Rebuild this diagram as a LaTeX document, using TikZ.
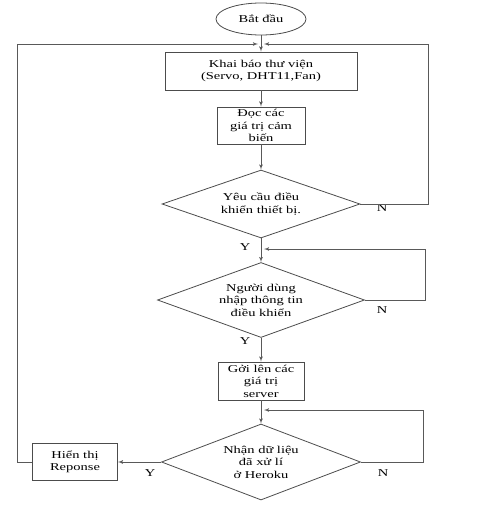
\documentclass[tikz,border=0pt]{standalone}
\usepackage{fontspec}
\setmainfont{Liberation Serif}[FakeStretch=1.38]
\usepackage{tikz}
\usetikzlibrary{shapes,arrows,positioning}

\begin{document}
\begin{tikzpicture}[x=1pt, y=-1pt, auto, font=\fontsize{10.5}{12.5}\selectfont]
    \tikzstyle{block} = [rectangle, draw=black!70, line width=0.8pt,
        align=center, inner sep=2pt]
    \tikzstyle{decision} = [diamond, draw=black!70, line width=0.8pt,
        align=center, inner sep=0pt, aspect=2.8]
    \tikzstyle{terminal} = [ellipse, draw=black!70, line width=0.8pt,
        minimum width=90pt, minimum height=32pt]
    \tikzstyle{line} = [draw=black!65, line width=0.8pt, -latex']
    \tikzstyle{answer} = [inner sep=0pt]

    \useasboundingbox (0,0) rectangle (480,506);

    \node [terminal] (start) at (261,19) {Bắt đầu};
    \node [block, below of=start, node distance=52pt, minimum width=192pt, minimum height=38pt] (libs) {Khai báo thư viện\\(Servo, DHT11,Fan)};
    \node [block, below of=libs, node distance=54.5pt, minimum width=88pt, minimum height=37pt] (read) {Đọc các\\giá trị cảm\\biến};
    \node [decision, below of=read, node distance=78.5pt, minimum width=198pt, minimum height=68pt] (ask) {Yêu cầu điều\\khiển thiết bị.};
    \node [decision, below of=ask, node distance=96pt, minimum width=207pt, minimum height=75pt] (input) {Người dùng\\nhập thông tin\\điều khiển};
    \node [block, below of=input, node distance=81pt, minimum width=86pt, minimum height=38pt] (send) {Gởi lên các\\giá trị\\server};
    \node [decision, below of=send, node distance=81pt, minimum width=199pt, minimum height=76pt] (heroku) {Nhận dữ liệu\\đã xử lí\\ở Heroku};
    \node [block, left of=heroku, node distance=186pt, minimum width=85pt, minimum height=37pt] (show) {Hiển thị\\Reponse};

    % answers
    \node [answer] (yes1) at (245,247) {Y};
    \node [answer] (no1) at (382,208) {N};
    \node [answer] (yes2) at (245,341) {Y};
    \node [answer] (no2) at (382,310) {N};
    \node [answer] (yes3) at (150,473) {Y};
    \node [answer] (no3) at (383,473) {N};

    % loop corners
    \coordinate (jtop) at (261,44);
    \coordinate (jmid) at (261,249);
    \coordinate (jlow) at (261,410);
    \coordinate (loopa) at (428,44);
    \coordinate (loopb) at (425,249);
    \coordinate (loopc) at (423,410);
    \coordinate (loopd) at (17,44);

    \path [line] (start) -- (libs);
    \path [line] (libs) -- (read);
    \path [line] (read) -- (ask);
    \path [line] (ask) -- (input);
    \path [line] (input) -- (send);
    \path [line] (send) -- (heroku);
    \path [line] (heroku.west) -- (show.east);
    \path [line] (ask.east) -| (loopa) -- ([xshift=3pt]jtop);
    \path [line] (input.east) -| (loopb) -- ([xshift=3pt]jmid);
    \path [line] (heroku.east) -| (loopc) -- ([xshift=3pt]jlow);
    \path [line] (show.west) -| (loopd) -- ([xshift=-3pt]jtop);
\end{tikzpicture}
\end{document}
